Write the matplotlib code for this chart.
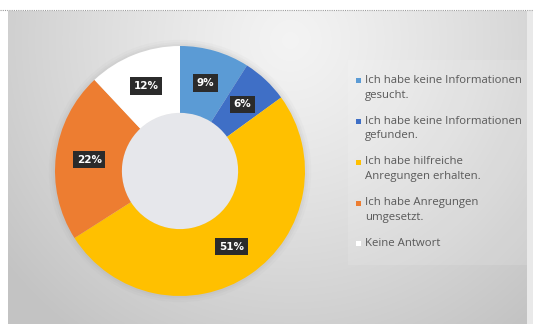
import numpy as np
import matplotlib
matplotlib.use("Agg")
import matplotlib.pyplot as plt
from matplotlib.patches import Rectangle

# Survey answers and their shares (percent)
labels = [
    "Ich habe keine Informationen\ngesucht.",
    "Ich habe keine Informationen\ngefunden.",
    "Ich habe hilfreiche\nAnregungen erhalten.",
    "Ich habe Anregungen\numgesetzt.",
    "Keine Antwort",
]
shares = [9, 6, 51, 22, 12]
colors = ["#5B9BD5", "#3F6FC6", "#FFC000", "#ED7D31", "#FFFFFF"]

W, H = 533, 324
fig = plt.figure(figsize=(W / 100, H / 100), dpi=100)
fig.patch.set_facecolor("white")

# Gray panel with a soft radial highlight
px0, px1, py0, py1 = 8, 527, 11, 324
bg = fig.add_axes([px0 / W, 0, (px1 - px0) / W, (H - py0) / H])
yy, xx = np.mgrid[py0:py1, px0:px1]
d = np.sqrt(((xx - 290) / 300.0) ** 2 + ((yy - 40) / 300.0) ** 2)
v = 0.955 - 0.15 * np.clip(d, 0, 1.2) ** 1.2
bg.imshow(np.dstack([v, v, v]), aspect="auto", interpolation="bilinear")
bg.set_axis_off()

# light strip past the panel's right edge
fig.add_artist(Rectangle((px1 / W, 0), (W - px1) / W, 1 - py0 / H,
                         transform=fig.transFigure, fc="#e9e9e9", ec="none"))

# Dotted rule along the top
fig.add_artist(plt.Line2D([0, 1], [1 - 10 / H, 1 - 10 / H], color="#9a9a9a",
                          lw=0.8, ls=(0, (1, 1)), transform=fig.transFigure))

# Legend backdrop
fig.add_artist(Rectangle((348 / W, 1 - 265 / H), (px1 - 348) / W, 205 / H,
                         transform=fig.transFigure, fc="white", ec="none",
                         alpha=0.12))

# Donut
cx, cy, r = 180, 153, 125
pad = 1.08
ax = fig.add_axes([(cx - r * pad) / W, (cy - r * pad) / H,
                   2 * r * pad / W, 2 * r * pad / H])

# faint shadow around the ring
for k, a in zip([1.05, 1.03, 1.015], [0.04, 0.05, 0.06]):
    ax.pie([1], radius=k, colors=["#808080"], startangle=90, counterclock=False,
           wedgeprops=dict(width=k - 0.7, alpha=a, linewidth=0))

inner = 0.465
wedges, _ = ax.pie(shares, colors=colors, radius=1.0, startangle=90,
                   counterclock=False,
                   wedgeprops=dict(width=1 - inner, linewidth=0))

# hole
ax.add_patch(plt.Circle((0, 0), inner, fc="#e6e7eb", ec="none", zorder=0.5))
ax.set_xlim(-pad, pad)
ax.set_ylim(-pad, pad)
ax.set_aspect("equal")
ax.set_axis_off()

mid = (1 + inner) / 2
for w, s in zip(wedges, shares):
    ang = np.deg2rad((w.theta1 + w.theta2) / 2)
    ax.text(mid * np.cos(ang), mid * np.sin(ang), f"{s}%", ha="center",
            va="center", color="white", fontsize=7.5, fontweight="bold",
            family="DejaVu Sans",
            bbox=dict(boxstyle="square,pad=0.35", fc="#2b2b2b", ec="none"))

# Legend
lx, ly0, step = 358, 81, 40.7
for i, (lab, c) in enumerate(zip(labels, colors)):
    y = ly0 + i * step
    fig.add_artist(Rectangle(((lx - 2.5) / W, 1 - (y + 2.5) / H), 5 / W, 5 / H,
                             transform=fig.transFigure, fc=c, ec="none"))
    fig.text((lx + 7) / W, 1 - (y - 6) / H, lab, ha="left", va="top",
             fontsize=8.2, color="#595959", linespacing=1.45,
             family="Open Sans")

fig.savefig("out.png", dpi=100)
